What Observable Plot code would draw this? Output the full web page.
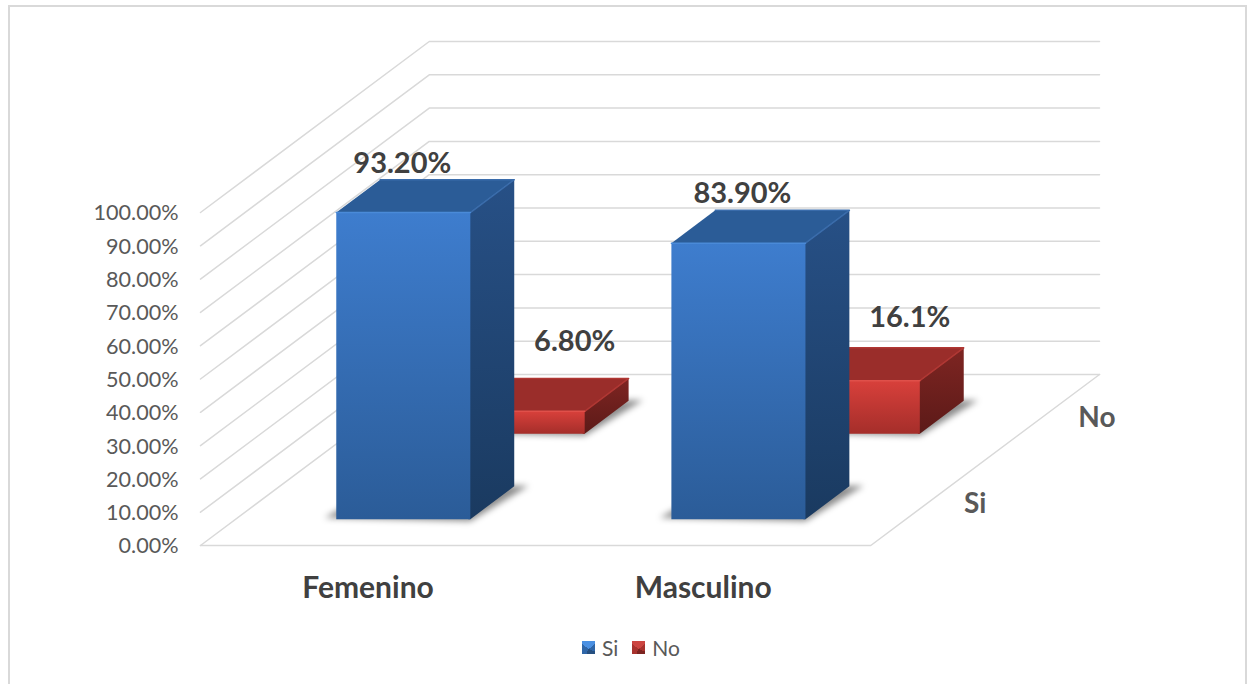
<!DOCTYPE html>
<html><head><meta charset="utf-8">
<script src="https://cdn.jsdelivr.net/npm/d3@7"></script>
<script src="https://cdn.jsdelivr.net/npm/@observablehq/plot@0.6"></script>
<style>
html,body{margin:0;padding:0;background:#fff;overflow:hidden}
#page{position:relative;width:1248px;height:684px;overflow:hidden;background:#fff;font-family:Lato,"Open Sans",sans-serif}
#frame{position:absolute;left:8px;top:5px;width:1235px;height:720px;border:2px solid #d9d9d9;box-sizing:content-box}
#chart{position:absolute;left:0;top:0}
#chart svg{background:transparent;display:block}
.shadow{filter:blur(3px)}
#legend{position:absolute;left:14px;top:630px;width:1234px;height:34px;display:flex;justify-content:center;align-items:center;gap:14px;font-size:21px;color:#595959}
#legend span.item{display:inline-flex;align-items:center;gap:7px}
#legend i{display:inline-block;width:13px;height:13px}
</style></head>
<body><div id="page"><div id="frame"></div><div id="chart"></div>
<div id="legend"></div></div>
<script>
// ---- data ----
const categories = ["Femenino", "Masculino"];
const seriesNames = ["Si", "No"];
const siValues = [93.2, 83.9];
const noValues = [6.8, 16.1];
const siLabels = ["93.20%", "83.90%"];
const noLabels = ["6.80%", "16.1%"];
const valueTicks = [0, 10, 20, 30, 40, 50, 60, 70, 80, 90, 100];

// ---- oblique 3D model: category c, depth d, value v → two plotted coordinates ----
const depthAcross = 229 / 335.5, depthUp = 171 / 3.33;
const barScale = 0.988;          // the bevelled bars stop just short of their gridline height
const px = (c, d) => c + d * depthAcross;
const py = (v, d) => v + d * depthUp;
const pt = (c, d, v, id) => ({x: px(c, d), y: py(v, d), id});

const barHalfWidth = 0.2, barHalfDepth = 0.096;
const depthCentre = {Si: 0.25, No: 0.75};
const colours = {
  Si: {front: "url(#siFront)", side: "url(#siSide)", top: "#2b5c97", edge: "#3a6cab", rim: "#4a8ad8"},
  No: {front: "url(#noFront)", side: "url(#noSide)", top: "#9a2d2a", edge: "#b03733", rim: "#e0504a"}
};

const poly = (pts, fill, extra = {}) => Plot.line(pts, {x: "x", y: "y", fill, stroke: "none", ...extra});

function barMarks(name, cat, rawValue) {
  const value = rawValue * barScale;
  const c0 = cat + 0.5 - barHalfWidth, c1 = cat + 0.5 + barHalfWidth;
  const d0 = depthCentre[name] - barHalfDepth, d1 = depthCentre[name] + barHalfDepth;
  const col = colours[name];
  const P = (c, d, v) => pt(c, d, v);
  const s = 0.04, lap = 0.006;   // lap: the side face runs slightly under the front face
  return [
    poly([P(c0 - s, d0 + 0.008, 0), P(c1 + s * 0.2, d0 - 0.012, 0), P(c1 + s, d1 + 0.004, 0), P(c0, d1, 0)],
      "#000", {fillOpacity: 0.45, className: "shadow"}),
    poly([P(c1 - lap, d0, 0), P(c1, d0, 0), P(c1, d1, 0), P(c1, d1, value), P(c1, d0, value), P(c1 - lap, d0, value)], col.side),
    poly([P(c0, d1, value), P(c1, d1, value), P(c1, d0, value), P(c0, d0, value)], col.top),
    poly([P(c0, d0, 0), P(c1, d0, 0), P(c1, d0, value), P(c0, d0, value)], col.front),
    Plot.line([P(c1, d0, value), P(c1, d1, value), P(c0, d1, value)], {x: "x", y: "y", stroke: col.edge, strokeWidth: 1.5}),
    Plot.line([P(c0, d0, value), P(c1, d0, value)], {x: "x", y: "y", stroke: col.rim, strokeWidth: 1.5})
  ];
}

const gridRows = valueTicks.flatMap(v => [pt(0, 0, v, v), pt(0, 1, v, v), pt(2, 1, v, v)]);
const floorRows = [pt(0, 0, 0), pt(2, 0, 0), pt(2, 1, 0)];

const defs = () => {
  const d = d3.create("svg:defs");
  const grad = (id, a, b) => {
    const g = d.append("linearGradient").attr("id", id).attr("x1", 0).attr("y1", 0).attr("x2", 0).attr("y2", 1);
    g.append("stop").attr("offset", "0%").attr("stop-color", a);
    g.append("stop").attr("offset", "100%").attr("stop-color", b);
  };
  grad("siFront", "#3e7dce", "#2b5c98");
  grad("siSide", "#275086", "#1a3a60");
  grad("noFront", "#d8403b", "#a52e2a");
  grad("noSide", "#7e2522", "#5c1a18");
  return d.node();
};

const labelMark = (text, c, d, v, dx, dy, extra = {}) =>
  Plot.text([{x: px(c, d), y: py(v * barScale, d), text}], {x: "x", y: "y", text: "text", dx, dy, ...extra});

const dataLabel = {fontSize: 29, fontWeight: 700, fill: "#404040", textAnchor: "middle", lineAnchor: "middle"};

const marks = [
  defs,
  Plot.line(gridRows, {x: "x", y: "y", z: "id", stroke: "#d9d9d9", strokeWidth: 1.5}),
  Plot.line(floorRows, {x: "x", y: "y", stroke: "#d9d9d9", strokeWidth: 1.5}),
  ...categories.flatMap((_, i) => barMarks("No", i, noValues[i])),
  ...categories.flatMap((_, i) => barMarks("Si", i, siValues[i])),
  Plot.text(valueTicks, {
    x: () => 0, y: d => d, text: d => d.toFixed(2) + "%",
    dx: -22, dy: 1, textAnchor: "end", lineAnchor: "middle", fontSize: 21.6, fill: "#595959"
  }),
  Plot.text(categories, {
    x: (d, i) => i + 0.5, y: () => 0, text: d => d, dy: 43,
    textAnchor: "middle", lineAnchor: "middle", fontSize: 30, fontWeight: 700, fill: "#404040"
  }),
  ...seriesNames.map(n => labelMark(n, 2, depthCentre[n], 0, 36, 1,
    {textAnchor: "start", lineAnchor: "middle", fontSize: 28, fontWeight: 700, fill: "#595959"})),
  labelMark(siLabels[0], 0.5, depthCentre.Si - barHalfDepth, siValues[0], -1, -49, dataLabel),
  labelMark(siLabels[1], 1.5, depthCentre.Si - barHalfDepth, siValues[1], 4, -49, dataLabel),
  labelMark(noLabels[0], 0.5, depthCentre.No - barHalfDepth, noValues[0], 57, -70, dataLabel),
  labelMark(noLabels[1], 1.5, depthCentre.No - barHalfDepth, noValues[1], 57, -63, dataLabel)
];

const chart = Plot.plot({
  width: 1248, height: 630, margin: 0,
  style: {background: "transparent", fontFamily: "Lato, 'Open Sans', sans-serif"},
  x: {domain: [0, px(2, 1)], range: [200, 1099], axis: null},
  y: {domain: [0, py(100, 1)], range: [545, 41], axis: null},
  marks
});
document.getElementById("chart").append(chart);

const swatches = {
  Si: "conic-gradient(from -52deg at 50% 62%,#4a90e2 0 29%,#2f66a8 29% 45%,#264f80 45% 71%,#2f66a8 71%)",
  No: "conic-gradient(from -52deg at 50% 62%,#cc4541 0 29%,#a8322e 29% 45%,#7c2421 45% 71%,#a8322e 71%)"
};
const legend = document.getElementById("legend");
seriesNames.forEach(n => {
  const item = document.createElement("span"); item.className = "item";
  const sw = document.createElement("i"); sw.style.background = swatches[n];
  item.append(sw, document.createTextNode(n));
  legend.append(item);
});
</script></body></html>
